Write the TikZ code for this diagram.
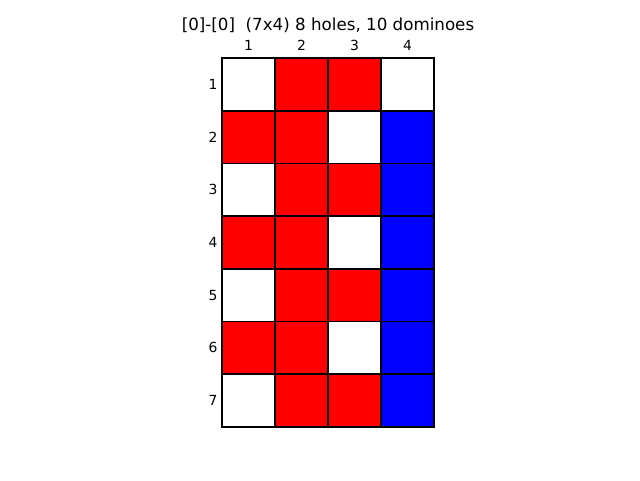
\documentclass[tikz,border=0pt]{standalone}
\usepackage{fontspec}
\setmainfont{DejaVu Sans}
\tikzset{
  cell/.style={minimum width=53pt, minimum height=52.71pt, inner sep=0pt, outer sep=0pt, anchor=north west},
  R/.style={cell, fill=red},
  B/.style={cell, fill=blue},
  W/.style={cell, fill=white},
  edge/.style={draw=black, line width=1.8pt},
  lbl/.style={font=\fontsize{13.9}{16}\selectfont, inner sep=0pt},
}
\begin{document}
\begin{tikzpicture}[x=1pt,y=-1pt]
\useasboundingbox (0,0) rectangle (640,480);
\node[font=\fontsize{16.7}{19}\selectfont, inner sep=0pt] (title) at (328,25) {[0]-[0]\ \ (7x4) 8 holes, 10 dominoes};
\foreach \c in {1,2,3,4} {
  \node[lbl] (col\c) at ({222+53*(\c-0.5)},45) {\c};
}
\foreach \r in {1,...,7} {
  \node[lbl] (row\r) at (213,{58+52.71*(\r-0.5)}) {\r};
}
\foreach \r/\row in {1/{W,R,R,W},2/{R,R,W,B},3/{W,R,R,B},4/{R,R,W,B},5/{W,R,R,B},6/{R,R,W,B},7/{W,R,R,B}} {
  \foreach \s [count=\c] in \row {
    \node[\s] (c\r\c) at ({222+53*(\c-1)},{58+52.71*(\r-1)}) {};
  }
}
\foreach \r in {1,...,7} {
  \foreach \c in {1,2,3,4} {
    \draw[edge] (c\r\c.north west) rectangle (c\r\c.south east);
  }
}
\end{tikzpicture}
\end{document}
